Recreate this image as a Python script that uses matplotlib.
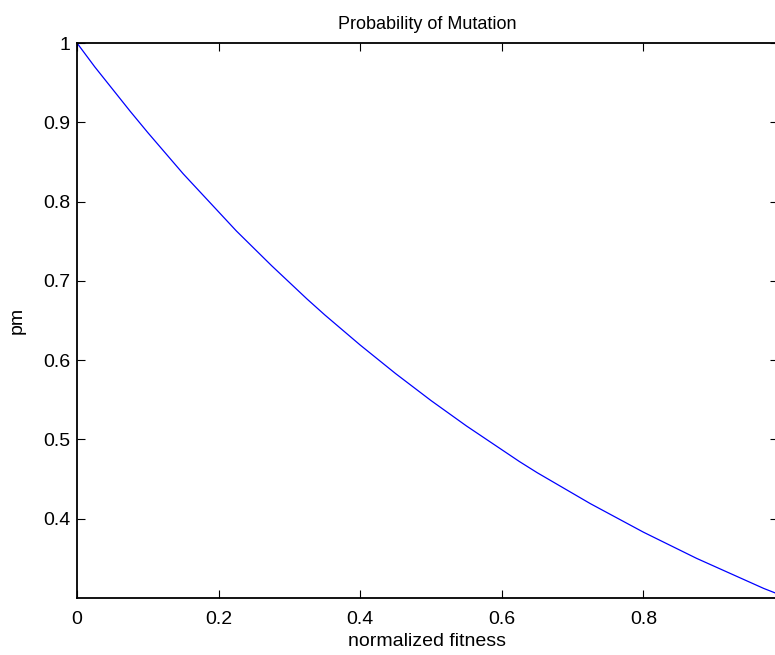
#!/usr/bin/env python3

import matplotlib
matplotlib.use("Agg")
from matplotlib import pyplot as plt

# in the reference picture
fitness = [0.000, 0.025, 0.050, 0.075, 0.100, 0.125, 0.150, 0.175, 0.200,
           0.225, 0.250, 0.275, 0.300, 0.325, 0.350, 0.375, 0.400, 0.425,
           0.450, 0.475, 0.500, 0.525, 0.550, 0.575, 0.600, 0.625, 0.650,
           0.675, 0.700, 0.725, 0.750, 0.775, 0.800, 0.825, 0.850, 0.875,
           0.900, 0.925, 0.950, 0.970, 0.990]
pm = [1.000, 0.970, 0.942, 0.914, 0.887, 0.861, 0.835, 0.811, 0.787,
      0.763, 0.741, 0.719, 0.698, 0.677, 0.657, 0.638, 0.619, 0.601,
      0.583, 0.566, 0.549, 0.533, 0.517, 0.502, 0.487, 0.472, 0.458,
      0.445, 0.432, 0.419, 0.407, 0.395, 0.383, 0.372, 0.361, 0.350,
      0.340, 0.330, 0.320, 0.312, 0.305]

x_ticks = [0, 0.2, 0.4, 0.6, 0.8]
x_tick_labels = ["0", "0.2", "0.4", "0.6", "0.8"]
y_ticks = [0.4, 0.5, 0.6, 0.7, 0.8, 0.9, 1]
y_tick_labels = ["0.4", "0.5", "0.6", "0.7", "0.8", "0.9", "1"]

plt.rcParams["font.family"] = ["Liberation Sans", "DejaVu Sans"]

W, H = 775, 655
fig = plt.figure(figsize=(W / 100, H / 100), dpi=100)
ax = fig.add_axes([77 / W, 1 - 598 / H, 701 / W, 555 / H])

ax.plot(fitness, pm, "-", color=(0, 0, 1), lw=0.9)

ax.set_xlim(0, 0.99)
ax.set_ylim(0.3, 1)
ax.set_xticks(x_ticks)
ax.set_xticklabels(x_tick_labels)
ax.set_yticks(y_ticks)
ax.set_yticklabels(y_tick_labels)

ax.tick_params(direction="in", length=6, width=0.8, labelsize=14,
               top=True, right=True)
ax.tick_params(axis="x", pad=9)
ax.tick_params(axis="y", pad=5)
for sp in ax.spines.values():
    sp.set_linewidth(1.3)

ax.set_xlabel("normalized fitness", fontsize=14, labelpad=4)
ax.set_ylabel("pm", fontsize=14, labelpad=12)
ax.set_title("Probability of Mutation", fontsize=13, pad=10)

fig.savefig("out.png", dpi=100)
